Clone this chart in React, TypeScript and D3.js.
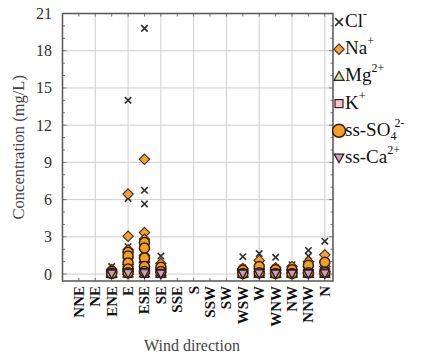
import React from "react";
import * as d3 from "d3";

// Wind sectors in plotting order
const directions = [
  "NNE", "NE", "ENE", "E", "ESE", "SE", "SSE", "S",
  "SSW", "SW", "WSW", "W", "WNW", "NW", "NNW", "N",
];

const yTicks = [0, 3, 6, 9, 12, 15, 18, 21];

// Daily concentrations (mg/L) grouped by wind sector
const clValues: number[][] = [
  [], [], [0.6, 0.3, 0.15],
  [14.0, 6.1, 2.2, 1.5, 1.0, 0.6, 0.3],
  [19.8, 6.75, 5.65, 2.3, 1.7, 1.1, 0.6, 0.3],
  [1.45, 0.7, 0.3],
  [], [], [], [],
  [1.4, 0.5, 0.2],
  [1.65, 0.6, 0.25],
  [1.35, 0.5, 0.2],
  [0.75, 0.4, 0.2],
  [1.9, 1.45, 0.5, 0.2],
  [2.65, 0.8, 0.3],
];

const naValues: number[][] = [
  [], [], [0.35, 0.2, 0.1],
  [6.45, 3.05, 1.95, 1.3, 0.8, 0.4, 0.2],
  [9.25, 3.35, 2.8, 1.5, 1.0, 0.6, 0.3, 0.15],
  [0.85, 0.4, 0.15],
  [], [], [], [],
  [0.45, 0.25, 0.1],
  [1.1, 0.4, 0.2],
  [0.5, 0.3, 0.1],
  [0.6, 0.3, 0.1],
  [1.0, 0.6, 0.3, 0.1],
  [1.55, 0.6, 0.2],
];

const mgValues: number[][] = [
  [], [], [0.12, 0.05],
  [0.95, 0.6, 0.3, 0.1],
  [1.25, 0.8, 0.4, 0.1],
  [0.2, 0.08],
  [], [], [], [],
  [0.15, 0.05],
  [0.2, 0.06],
  [0.15, 0.05],
  [0.15, 0.05],
  [0.18, 0.06],
  [0.25, 0.08],
];

const kValues: number[][] = [
  [], [], [0.1, 0.03],
  [0.35, 0.15, 0.05],
  [0.4, 0.2, 0.05],
  [0.12, 0.04],
  [], [], [], [],
  [0.1, 0.03],
  [0.3, 0.08],
  [0.12, 0.04],
  [0.12, 0.04],
  [0.3, 0.06],
  [0.2, 0.05],
];

const so4Values: number[][] = [
  [], [], [0.2, 0.05],
  [1.75, 1.45, 0.9, 0.4, 0.1],
  [2.55, 2.1, 1.3, 0.6, 0.2],
  [0.55, 0.2],
  [], [], [], [],
  [0.3, 0.05],
  [0.6, 0.1],
  [0.35, 0.05],
  [0.35, 0.05],
  [0.7, 0.1],
  [0.95, 0.15],
];

const caValues: number[][] = [
  [], [], [0.08, 0.02],
  [0.12, 0.05],
  [0.15, 0.05],
  [0.08, 0.02],
  [], [], [], [],
  [0.06, 0.02],
  [0.1, 0.03],
  [0.06, 0.02],
  [0.06, 0.02],
  [0.08, 0.02],
  [0.1, 0.03],
];

const FONT = "Liberation Serif";
const W = 437;
const H = 360;
const frame = { left: 62.5, right: 333, top: 13.5, bottom: 281 };

type Kind = "cross" | "diamond" | "triUp" | "square" | "circle" | "triDown";

function Marker({ kind, cx, cy, s = 1 }: { kind: Kind; cx: number; cy: number; s?: number }) {
  switch (kind) {
    case "cross": {
      const h = 3.2 * s;
      return (
        <g stroke="#2f2f2f" strokeWidth={1.6}>
          <line x1={cx - h} y1={cy - h} x2={cx + h} y2={cy + h} />
          <line x1={cx - h} y1={cy + h} x2={cx + h} y2={cy - h} />
        </g>
      );
    }
    case "diamond": {
      const h = 5.2 * s;
      return (
        <path
          d={`M${cx},${cy - h}L${cx + h},${cy}L${cx},${cy + h}L${cx - h},${cy}Z`}
          fill="#F1A23E"
          stroke="#4a2e14"
          strokeWidth={1.1}
        />
      );
    }
    case "triUp": {
      const h = 5 * s;
      return (
        <path
          d={`M${cx},${cy - h}L${cx + h},${cy + h * 0.8}L${cx - h},${cy + h * 0.8}Z`}
          fill="#CFE19A"
          stroke="#2e2c18"
          strokeWidth={1.2}
        />
      );
    }
    case "square": {
      const h = 4 * s;
      return (
        <rect
          x={cx - h}
          y={cy - h}
          width={2 * h}
          height={2 * h}
          fill="#F6C2CF"
          stroke="#3a1e20"
          strokeWidth={1.2}
        />
      );
    }
    case "circle":
      return <circle cx={cx} cy={cy} r={5 * s} fill="#F29F26" stroke="#3a200c" strokeWidth={1.5} />;
    case "triDown": {
      const h = 4.6 * s;
      return (
        <path
          d={`M${cx},${cy + h}L${cx + h},${cy - h * 0.8}L${cx - h},${cy - h * 0.8}Z`}
          fill="#C9A3BC"
          stroke="#2e1626"
          strokeWidth={1.2}
        />
      );
    }
  }
  return null;
}

const series: { kind: Kind; values: number[][] }[] = [
  { kind: "cross", values: clValues },
  { kind: "diamond", values: naValues },
  { kind: "triUp", values: mgValues },
  { kind: "square", values: kValues },
  { kind: "circle", values: so4Values },
  { kind: "triDown", values: caValues },
];

export default function App() {
  const x = d3
    .scaleLinear()
    .domain([-1, directions.length - 0.5])
    .range([frame.left, frame.right]);
  const y = d3.scaleLinear().domain([-0.56, 21]).range([frame.bottom, frame.top]);

  const minorY = d3.range(0, 22, 1);
  const idx = directions.map((_, i) => i);

  const legendItems: { kind: Kind; base: string; sub?: string; sup: string; s: number }[] = [
    { kind: "cross", base: "Cl", sup: "-", s: 1.2 },
    { kind: "diamond", base: "Na", sup: "+", s: 1 },
    { kind: "triUp", base: "Mg", sup: "2+", s: 1 },
    { kind: "square", base: "K", sup: "+", s: 1 },
    { kind: "circle", base: "ss-SO", sub: "4", sup: "2-", s: 1.3 },
    { kind: "triDown", base: "ss-Ca", sup: "2+", s: 1.05 },
  ];

  return (
    <svg
      width={W}
      height={H}
      viewBox={`0 0 ${W} ${H}`}
      style={{ position: "absolute", left: 0, top: 0, background: "#fff" }}
    >
      {/* grid */}
      <g stroke="#cfcfcf" strokeWidth={1}>
        {yTicks.map((t) => (
          <line key={"gy" + t} x1={frame.left} x2={frame.right} y1={y(t)} y2={y(t)} />
        ))}
        {idx
          .filter((i) => i % 2 === 1)
          .map((i) => (
            <line key={"gx" + i} x1={x(i)} x2={x(i)} y1={frame.top} y2={frame.bottom} />
          ))}
      </g>

      {/* inner ticks */}
      <g stroke="#777" strokeWidth={1}>
        {minorY.map((t) => (
          <g key={"my" + t}>
            <line x1={frame.left} x2={frame.left + (t % 3 === 0 ? 4 : 2.5)} y1={y(t)} y2={y(t)} />
            <line x1={frame.right} x2={frame.right - (t % 3 === 0 ? 4 : 2.5)} y1={y(t)} y2={y(t)} />
          </g>
        ))}
        {idx.map((i) => (
          <g key={"mx" + i}>
            <line x1={x(i)} x2={x(i)} y1={frame.top} y2={frame.top + 3} />
            <line x1={x(i)} x2={x(i)} y1={frame.bottom} y2={frame.bottom - 3} />
          </g>
        ))}
      </g>

      {/* data */}
      <g>
        {directions.map((d, i) => (
          <g key={d}>
            {series.map((sr) =>
              sr.values[i].map((v, j) => (
                <Marker key={sr.kind + j} kind={sr.kind} cx={x(i)} cy={y(v)} />
              ))
            )}
          </g>
        ))}
      </g>

      {/* frame */}
      <rect
        x={frame.left}
        y={frame.top}
        width={frame.right - frame.left}
        height={frame.bottom - frame.top}
        fill="none"
        stroke="#555"
        strokeWidth={1.5}
      />

      {/* y tick labels */}
      {yTicks.map((t) => (
        <text
          key={"yl" + t}
          x={52}
          y={y(t) + 5.5}
          fontSize={16}
          fill="#333"
          textAnchor="end"
          style={{ fontFamily: FONT }}
        >
          {t}
        </text>
      ))}

      {/* y title */}
      <text
        transform={`translate(24,${(frame.top + frame.bottom) / 2}) rotate(-90)`}
        textAnchor="middle"
        fontSize={16.5}
        fill="#444"
        style={{ fontFamily: FONT }}
      >
        Concentration (mg/L)
      </text>

      {/* x tick labels */}
      {directions.map((d, i) => (
        <text
          key={"xl" + d}
          transform={`translate(${x(i) + 5},${frame.bottom + 5}) rotate(-90)`}
          fontSize={15}
          fontWeight="bold"
          fill="#111"
          textAnchor="end"
          style={{ fontFamily: FONT }}
        >
          {d}
        </text>
      ))}

      {/* x title */}
      <text x={192} y={351} textAnchor="middle" fontSize={16} fill="#444" style={{ fontFamily: FONT }}>
        Wind direction
      </text>

      {/* legend */}
      {legendItems.map((it, k) => {
        const base = 27 + k * 27.2;
        return (
          <g key={"lg" + k}>
            <Marker kind={it.kind} cx={339} cy={base - 5} s={it.s} />
            <text x={345} y={base} fontSize={19} fill="#111" style={{ fontFamily: FONT }}>
              {it.base}
              {it.sub ? (
                <>
                  <tspan fontSize={12} dy={4}>
                    {it.sub}
                  </tspan>
                  <tspan fontSize={12} dx={-2} dy={-13}>
                    {it.sup}
                  </tspan>
                </>
              ) : (
                <tspan fontSize={12} dy={-9}>
                  {it.sup}
                </tspan>
              )}
            </text>
          </g>
        );
      })}
    </svg>
  );
}
